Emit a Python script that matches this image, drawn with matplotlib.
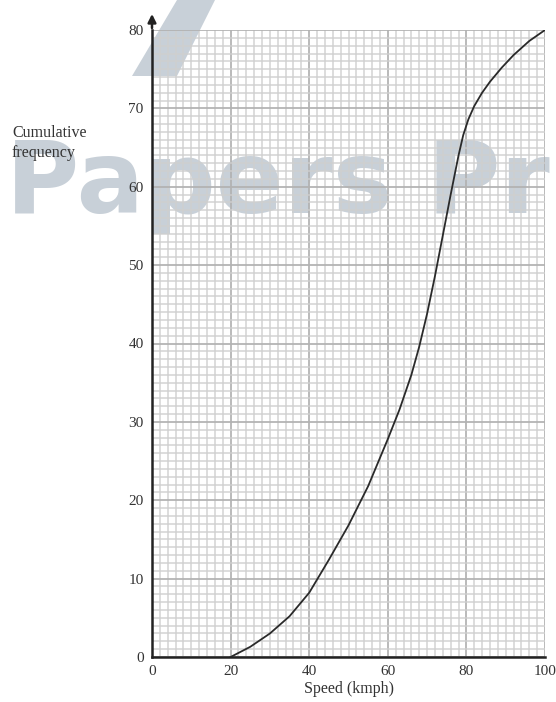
import numpy as np
import matplotlib.pyplot as plt
from matplotlib.patches import Polygon

# valores (velocidade x frequencia acumulada)
velocidade = [20, 25, 30, 35, 40, 45, 50, 55, 60, 63, 66, 68, 70, 72, 74, 76, 78, 79.2, 80.5, 82, 84, 86, 89, 92, 96, 100]
freq_acumulada = [0, 1.3, 3.0, 5.2, 8.2, 12.4, 16.8, 21.8, 27.8, 31.6, 36.0, 39.6, 43.8, 48.6, 53.8, 59.0, 64.0, 66.6, 68.6, 70.3, 72.0, 73.4, 75.2, 76.8, 78.6, 80]

x_ticks = [0, 20, 40, 60, 80, 100]
y_ticks = [0, 10, 20, 30, 40, 50, 60, 70, 80]

fonte = 'Liberation Serif'
cor_texto = '#333333'
cor_marca = '#c8d0d8'

fig = plt.figure(figsize=(5.56, 7.02), dpi=100)
ax = fig.add_axes([152/556, 1 - 657/702, 393/556, 627/702])
ax.patch.set_alpha(0)  # fundo transparente pra marca d'agua ficar por baixo da grade

ax.set_xlim(0, 100)
ax.set_ylim(0, 80)

# papel milimetrado
ax.set_xticks(np.arange(0, 101, 2), minor=True)
ax.set_yticks(np.arange(0, 81, 1), minor=True)
ax.set_xticks(x_ticks)
ax.set_yticks(y_ticks)
ax.grid(which='minor', color='#cfcfcf', linewidth=1.1, alpha=0.9)
ax.grid(which='major', color='#b2b2b2', linewidth=1.4, alpha=0.9)
ax.set_axisbelow(True)

ax.tick_params(which='both', length=0, labelsize=11, labelcolor=cor_texto, pad=6)
for t in ax.get_xticklabels() + ax.get_yticklabels():
    t.set_fontfamily(fonte)

for lado in ['top', 'right']:
    ax.spines[lado].set_visible(False)
for lado in ['left', 'bottom']:
    ax.spines[lado].set_linewidth(1.8)
    ax.spines[lado].set_color('#222222')

# seta no eixo y
ax.annotate('', xy=(0, 82.4), xytext=(0, 79.9),
            arrowprops=dict(arrowstyle='-|>', color='#222222', lw=1.8, mutation_scale=12),
            annotation_clip=False)

ax.plot(velocidade, freq_acumulada, color='#2a2a2a', linewidth=1.3, zorder=3,
        solid_joinstyle='round')

ax.set_xlabel('Speed (kmph)', fontfamily=fonte, fontsize=11.5, color=cor_texto, labelpad=2)
fig.text(12/556, 1 - 143/702, 'Cumulative\nfrequency', fontfamily=fonte, fontsize=11.5,
         color=cor_texto, ha='left', va='center', linespacing=1.3, zorder=5)

# marca d'agua (por baixo dos eixos)
fig.text(6/556, 1 - 213/702, 'Papers Pr', fontfamily='DejaVu Sans', fontweight='bold',
         fontsize=72, color=cor_marca, ha='left', va='baseline', zorder=-2)
fig.patches.append(Polygon([[177/556, 1.0], [215/556, 1.0], [177/556, 1 - 76/702], [132/556, 1 - 76/702]],
                           closed=True, transform=fig.transFigure, facecolor=cor_marca,
                           edgecolor='none', zorder=-2))

fig.savefig('out.png', dpi=100)
